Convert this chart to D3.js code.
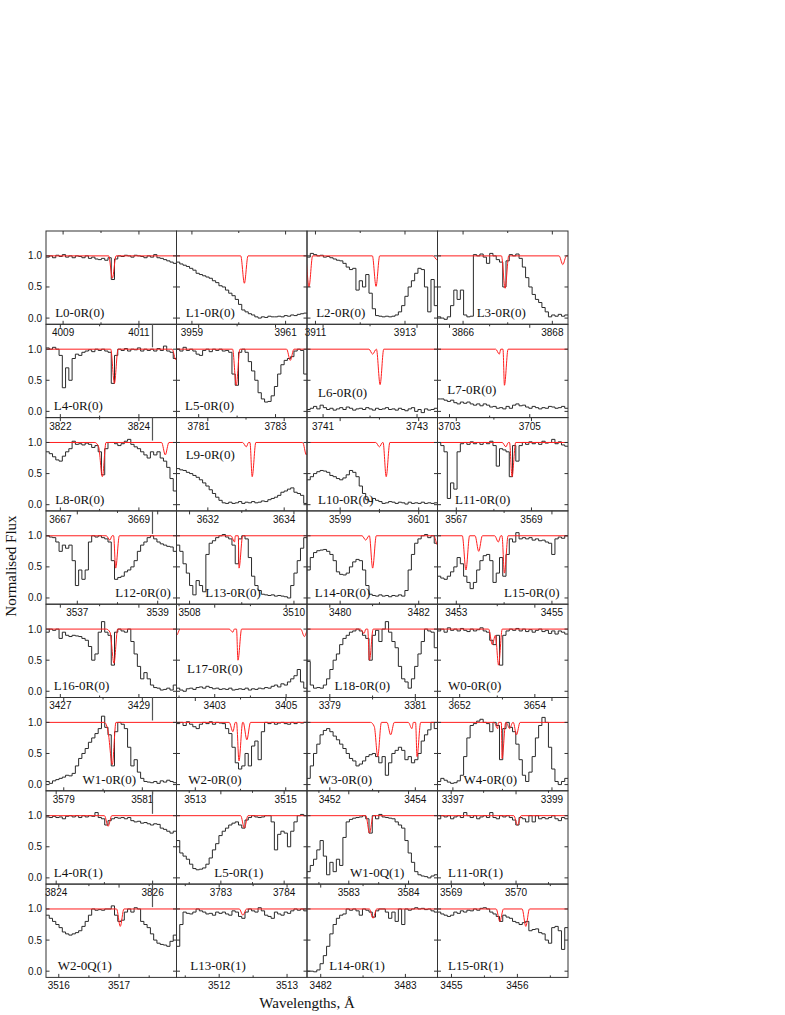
<!DOCTYPE html>
<html><head><meta charset="utf-8">
<script src="https://cdn.jsdelivr.net/npm/d3@7"></script>
<style>body{margin:0;background:#fff}</style>
</head><body>
<svg id="c" width="785" height="1015"></svg>
<script>
// ---------- DATA ----------
const panelNames = [
 "L0-0R(0)","L1-0R(0)","L2-0R(0)","L3-0R(0)",
 "L4-0R(0)","L5-0R(0)","L6-0R(0)","L7-0R(0)",
 "L8-0R(0)","L9-0R(0)","L10-0R(0)","L11-0R(0)",
 "L12-0R(0)","L13-0R(0)","L14-0R(0)","L15-0R(0)",
 "L16-0R(0)","L17-0R(0)","L18-0R(0)","W0-0R(0)",
 "W1-0R(0)","W2-0R(0)","W3-0R(0)","W4-0R(0)",
 "L4-0R(1)","L5-0R(1)","W1-0Q(1)","L11-0R(1)",
 "W2-0Q(1)","L13-0R(1)","L14-0R(1)","L15-0R(1)"];

const xDomains = [
 [4008.549,4011.991],[3958.671,3961.457],[3910.811,3913.726],[3865.427,3868.351],
 [3821.635,3824.957],[3780.423,3783.819],[3740.658,3743.436],[3702.701,3705.953],
 [3666.635,3669.957],[3631.179,3634.598],[3598.156,3601.478],[3566.5,3569.972],
 [3536.221,3539.468],[3507.75,3510.25],[3479.156,3482.478],[3452.607,3455.336],
 [3426.635,3429.957],[3401.929,3405.585],[3378.466,3381.519],[3651.41,3654.882],
 [3578.548,3581.87],[3512.584,3515.47],[3451.466,3454.519],[3396.689,3399.324],
 [3823.789,3826.495],[3782.299,3784.361],[3582.301,3584.484],[3568.789,3570.801],
 [3515.788,3517.953],[3511.371,3513.294],[3481.838,3483.379],[3454.788,3456.768]];

const xTickLabels = [
 [4009,4011],[3959,3961],[3911,3913],[3866,3868],
 [3822,3824],[3781,3783],[3741,3743],[3703,3705],
 [3667,3669],[3632,3634],[3599,3601],[3567,3569],
 [3537,3539],[3508,3510],[3480,3482],[3453,3455],
 [3427,3429],[3403,3405],[3379,3381],[3652,3654],
 [3579,3581],[3513,3515],[3452,3454],[3397,3399],
 [3824,3826],[3783,3784],[3583,3584],[3569,3570],
 [3516,3517],[3512,3513],[3482,3483],[3455,3456]];

const yTickValues = [0.0, 0.5, 1.0];

// observed normalised flux, equal wavelength bins across each panel
const fluxValues = [
 [0.98,1.0,0.97,1.01,0.99,1.02,0.98,1.0,0.97,1.0,0.99,0.97,1.0,0.96,0.98,0.95,0.94,0.96,0.93,0.97,0.62,0.95,1.0,0.99,1.01,1.0,0.98,1.01,1.0,0.99,0.97,1.0,0.98,1.02,0.97,0.96,0.94,0.92,0.9,0.88],
 [0.9,0.87,0.85,0.83,0.8,0.77,0.72,0.7,0.68,0.66,0.64,0.6,0.57,0.52,0.5,0.45,0.4,0.36,0.3,0.22,0.13,0.1,0.07,0.05,0.02,0.0,0.02,0.01,0.03,0.02,0.02,0.03,0.02,0.04,0.03,0.05,0.04,0.06,0.07,0.08],
 [0.98,1.04,1.02,1.0,1.01,0.98,0.99,0.97,0.95,0.93,0.92,0.88,0.82,0.78,0.8,0.45,0.6,0.5,0.7,0.4,0.15,0.04,0.03,0.02,0.03,0.02,0.03,0.05,0.1,0.2,0.35,0.5,0.6,0.72,0.8,0.78,0.5,0.1,0.62,0.2],
 [0.02,0.0,-0.02,0.02,0.2,0.45,0.3,0.45,0.05,0.02,0.03,1.02,1.0,1.03,0.98,0.88,1.04,1.0,0.94,0.9,0.5,0.92,1.02,1.0,1.03,0.96,0.82,0.65,0.5,0.38,0.3,0.25,0.17,0.1,0.02,0.05,0.03,0.06,0.03,0.05],
 [1.02,1.0,1.03,1.0,0.9,0.38,0.7,0.5,0.85,0.92,0.9,0.95,0.97,0.99,0.96,1.0,0.98,1.0,0.97,0.95,0.45,0.9,1.0,0.98,1.01,0.97,1.0,0.99,1.02,0.97,1.0,0.98,1.0,0.97,1.01,0.98,1.05,0.97,0.95,0.85],
 [1.0,0.97,1.03,0.98,1.0,0.97,0.92,0.9,0.98,1.0,0.96,1.0,0.98,1.0,0.97,0.98,0.95,0.6,0.42,0.95,1.0,0.95,0.8,0.65,0.5,0.3,0.2,0.15,0.16,0.25,0.4,0.6,0.75,0.82,0.85,0.88,0.97,1.0,0.98,0.6],
 [0.03,0.05,0.08,0.04,0.1,0.06,0.03,0.05,0.02,0.04,0.06,0.03,0.07,0.05,0.02,0.04,0.05,0.03,0.06,0.04,0.02,0.05,0.03,0.04,0.06,0.03,0.04,0.02,0.05,0.03,0.01,0.04,0.06,0.0,0.03,-0.02,0.04,0.02,0.03,0.05],
 [0.2,0.2,0.18,0.16,0.18,0.14,0.12,0.15,0.13,0.15,0.12,0.1,0.12,0.09,0.12,0.1,0.07,0.08,0.05,0.06,0.04,0.08,0.05,0.1,0.12,0.09,0.1,0.07,0.05,0.08,0.06,0.04,0.06,0.05,0.08,0.07,0.05,0.06,0.08,0.05],
 [0.85,0.82,0.77,0.72,0.7,0.78,0.85,0.9,1.02,0.97,0.98,0.96,0.99,0.97,0.92,0.95,0.85,0.48,0.9,1.0,1.0,0.98,0.95,0.98,1.02,1.05,0.97,0.93,0.9,0.85,0.8,0.75,0.85,0.8,0.85,0.75,0.7,0.6,0.42,0.22],
 [0.58,0.56,0.55,0.52,0.5,0.47,0.44,0.4,0.35,0.3,0.24,0.18,0.12,0.07,0.03,0.02,0.04,0.02,0.03,0.05,0.02,0.04,0.03,0.05,0.03,0.04,0.06,0.05,0.08,0.1,0.12,0.15,0.2,0.22,0.25,0.27,0.2,0.18,0.15,0.02],
 [0.4,0.45,0.5,0.53,0.55,0.54,0.52,0.47,0.45,0.42,0.4,0.43,0.48,0.55,0.52,0.45,0.3,0.18,0.08,0.05,0.1,0.07,0.05,0.02,0.03,0.05,0.04,0.02,0.04,0.03,0.01,0.04,0.02,0.03,0.02,0.04,0.02,0.03,0.02,0.03],
 [1.0,0.95,0.85,0.1,0.35,0.25,0.85,0.98,1.0,0.97,1.01,0.98,1.0,0.97,1.0,0.98,1.02,0.95,0.62,0.9,0.88,0.85,0.45,0.95,0.7,0.95,1.0,0.97,1.01,0.98,1.0,0.97,1.02,0.99,1.0,1.05,0.98,1.01,0.96,0.94],
 [1.0,0.98,0.97,0.9,0.75,0.85,0.8,0.85,0.6,0.2,0.45,0.3,0.45,0.9,1.0,0.98,1.0,0.97,0.95,0.9,0.6,0.3,0.33,0.35,0.42,0.45,0.5,0.6,0.75,0.85,0.9,0.97,1.0,0.95,0.9,0.87,0.85,0.83,0.82,0.75],
 [0.85,0.75,0.55,0.4,0.2,0.05,0.28,0.2,0.1,0.7,0.88,0.92,0.97,1.0,1.02,0.98,0.95,0.85,0.55,0.95,1.0,0.95,0.65,0.35,0.2,0.12,0.06,0.05,0.04,0.05,0.03,0.04,0.03,0.02,0.0,0.2,0.4,0.6,0.8,0.97],
 [0.45,0.65,0.73,0.76,0.77,0.78,0.75,0.7,0.6,0.42,0.38,0.37,0.4,0.5,0.58,0.62,0.6,0.45,0.2,0.06,0.04,0.03,0.05,0.03,0.04,0.02,0.04,0.03,0.05,0.03,0.12,0.45,0.7,0.88,0.95,1.0,1.02,0.97,1.0,0.88],
 [0.35,0.32,0.3,0.35,0.42,0.5,0.65,0.55,0.35,0.25,0.15,0.25,0.45,0.6,0.68,0.7,0.6,0.25,0.4,0.65,0.35,0.7,0.95,0.9,1.05,0.95,0.97,0.95,0.97,0.93,0.95,0.92,0.93,0.9,0.88,0.7,0.95,0.98,0.96,1.0],
 [0.95,1.0,0.98,1.0,0.85,0.95,0.9,0.88,0.9,0.89,0.88,0.85,0.82,0.72,0.5,0.6,0.95,1.12,0.95,0.9,0.42,0.95,1.0,0.97,0.95,1.0,0.8,0.6,0.4,0.2,0.3,0.2,0.1,0.06,0.05,0.02,0.03,0.05,0.02,0.1],
 [0.05,0.02,0.0,0.04,0.05,0.03,0.06,0.07,0.05,0.08,0.06,0.04,0.05,0.03,0.04,0.03,0.05,0.02,0.03,0.04,0.03,0.05,0.02,0.04,0.03,0.05,0.04,0.06,0.05,0.08,0.1,0.07,0.12,0.1,0.15,0.2,0.25,0.35,0.15,0.05],
 [0.48,0.1,0.05,0.06,0.05,0.1,0.2,0.35,0.5,0.6,0.75,0.85,0.9,0.95,0.97,1.0,0.97,0.9,0.85,0.5,0.9,0.98,0.8,1.0,1.12,0.95,0.8,0.7,0.4,0.2,0.15,0.05,0.2,0.4,0.6,0.8,1.0,0.97,0.95,0.7],
 [0.97,1.0,0.95,1.02,0.98,1.0,0.97,1.01,0.98,0.96,1.0,0.97,0.99,1.02,0.97,0.95,0.82,0.75,0.9,0.42,0.9,0.97,1.0,0.98,1.01,0.97,1.0,0.96,0.99,0.95,0.98,1.0,0.96,0.98,0.93,0.97,0.92,0.97,0.95,0.92],
 [0.05,0.02,0.06,0.08,0.1,0.12,0.15,0.14,0.18,0.3,0.42,0.5,0.58,0.68,0.75,0.82,0.9,1.1,0.92,0.8,0.3,0.85,1.0,0.97,0.9,0.6,0.3,0.4,0.2,0.1,0.05,0.04,0.03,0.05,0.02,0.06,0.04,0.07,0.05,0.03],
 [0.98,1.0,0.95,1.01,0.97,0.93,0.9,0.97,1.0,0.98,1.01,0.97,1.0,0.99,0.98,0.9,0.82,0.6,0.35,0.25,0.3,0.5,0.3,0.62,0.7,0.4,0.85,1.0,0.98,1.0,0.97,0.99,1.0,0.98,0.97,1.0,0.98,1.0,0.99,1.0],
 [0.1,0.3,0.5,0.65,0.8,0.87,0.9,0.85,0.78,0.72,0.65,0.58,0.5,0.42,0.38,0.3,0.33,0.38,0.45,0.48,0.5,0.45,0.35,0.45,0.15,0.35,0.5,0.55,0.6,0.55,0.4,0.45,0.35,0.4,0.5,0.7,0.8,0.88,1.0,0.9],
 [0.05,0.1,0.07,0.04,0.02,0.03,0.06,0.15,0.45,0.75,0.95,0.98,1.02,1.05,1.0,0.98,0.85,1.0,0.95,0.4,0.9,1.0,0.92,0.85,0.65,0.4,0.15,0.05,0.2,0.45,0.75,0.95,1.08,1.0,0.6,0.25,0.05,0.0,0.05,0.1],
 [0.98,0.97,0.99,0.97,0.98,0.95,0.99,1.0,0.98,1.0,0.97,1.0,0.98,1.0,0.99,1.05,0.97,0.95,0.85,0.92,0.95,0.97,0.96,0.97,0.95,0.97,0.92,0.9,0.91,0.88,0.89,0.87,0.85,0.87,0.86,0.8,0.78,0.75,0.72,0.75],
 [0.6,0.4,0.35,0.3,0.22,0.15,0.13,0.14,0.16,0.22,0.32,0.45,0.55,0.68,0.75,0.8,0.85,0.88,0.9,0.85,0.8,0.93,0.97,1.0,0.98,0.97,0.98,1.0,1.0,0.9,0.45,0.7,0.75,0.72,0.5,0.75,0.9,1.0,1.02,1.0],
 [0.1,0.2,0.3,0.45,0.6,0.35,0.05,0.25,0.1,0.3,0.2,0.65,0.9,0.94,0.96,0.97,0.98,1.0,0.95,0.72,1.0,0.95,1.02,0.98,0.97,0.96,0.95,0.9,0.85,0.8,0.6,0.4,0.25,0.1,0.05,0.03,0.02,0.0,0.03,0.05],
 [0.95,1.0,0.98,1.0,0.95,0.98,1.0,0.97,1.05,1.0,0.97,1.0,0.95,0.98,1.0,0.97,1.05,0.97,0.95,1.0,0.98,1.0,0.97,0.93,0.85,0.97,0.95,0.9,1.0,0.9,1.0,0.95,0.97,0.95,0.97,1.0,0.95,0.92,0.97,0.95],
 [0.9,0.85,0.8,0.75,0.7,0.63,0.6,0.58,0.6,0.62,0.65,0.72,0.8,0.9,1.0,0.98,0.99,0.98,1.0,1.0,1.05,0.9,0.8,0.82,0.95,1.0,0.95,1.02,1.0,0.8,0.75,0.7,0.6,0.5,0.45,0.43,0.42,0.4,0.48,0.58],
 [0.4,0.75,0.95,0.93,0.92,0.95,1.0,0.97,0.95,0.92,0.93,0.9,0.95,0.93,0.95,0.92,0.9,0.97,0.95,0.88,0.85,0.95,1.0,0.97,0.95,1.02,0.97,0.9,0.88,0.85,0.95,0.92,0.9,0.95,0.93,0.97,1.0,0.98,1.0,0.97],
 [0.0,0.0,-0.01,0.02,0.12,0.25,0.4,0.6,0.75,0.85,0.9,0.92,1.0,0.98,1.0,0.97,0.9,1.0,0.98,0.95,0.87,0.97,1.0,1.0,0.95,0.85,0.95,0.8,1.0,0.75,1.0,0.98,1.0,1.02,1.0,1.01,0.99,1.0,0.97,0.95],
 [0.95,0.92,0.9,0.88,0.9,0.95,0.93,0.97,0.95,0.98,0.97,1.0,0.98,1.01,1.02,1.0,0.95,0.92,0.88,0.8,0.9,0.87,0.85,0.8,0.78,0.75,0.78,0.8,0.65,0.67,0.68,0.62,0.6,0.5,0.45,0.7,0.72,0.65,0.35,0.7]];

// model profile vertices: [wavelength, flux] at line minima (and local maxima between blends)
const modelVertices = [
 [[4010.30,0.64]],
 [[3960.12,0.56]],
 [[3910.855,0.5],[3912.353,0.51],[3913.711,0.94]],
 [[3866.942,0.48],[3868.234,0.86]],
 [[3823.376,0.45],[3824.94,0.83]],
 [[3781.978,0.42],[3783.384,0.82]],
 [[3742.055,0.92],[3742.214,0.43]],
 [[3704.242,0.92],[3704.369,0.42]],
 [[3667.974,0.93],[3668.07,0.45],[3669.671,0.8]],
 [[3633.008,0.93],[3633.162,0.45],[3634.581,0.8]],
 [[3600.0,0.93],[3600.172,0.45]],
 [[3568.319,0.93],[3568.483,0.45]],
 [[3537.812,0.93],[3537.955,0.48]],
 [[3508.863,0.9],[3508.948,0.48]],
 [[3480.651,0.93],[3480.827,0.48],[3482.478,0.85]],
 [[3453.202,0.45],[3453.469,0.75],[3453.879,0.9],[3454.007,0.4]],
 [[3428.263,0.95],[3428.366,0.45]],
 [[3401.929,0.9],[3403.508,0.95],[3403.651,0.5],[3405.512,0.88]],
 [[3379.8,0.93],[3379.928,0.5]],
 [[3652.868,0.75],[3652.95,0.9],[3653.035,0.42]],
 [[3580.129,0.85],[3580.236,0.32]],
 [[3513.831,0.85],[3513.966,0.38],[3514.14,0.72]],
 [[3453.041,0.93],[3453.121,0.45],[3453.423,0.8],[3453.921,0.9],[3454.04,0.45]],
 [[3397.904,0.9],[3397.993,0.42],[3398.146,0.9],[3398.283,0.8]],
 [[3825.077,0.83]],
 [[3783.371,0.8]],
 [[3583.347,0.72]],
 [[3570.022,0.85]],
 [[3517.02,0.72]],
 [[3512.35,0.9]],
 [[3482.618,0.85]],
 [[3455.734,0.8],[3456.128,0.72]]];

// ---------- LAYOUT ----------
// panel label placement: [fraction of panel width, flux level of baseline]
const labelPlace = [
 [0.07,0.0],[0.07,0.0],[0.07,0.0],[0.30,0.0],
 [0.06,0.0],[0.065,0.0],[0.085,0.22],[0.075,0.27],
 [0.07,0.0],[0.07,0.72],[0.085,0.0],[0.135,0.0],
 [0.53,0.0],[0.22,0.0],[0.06,0.0],[0.51,0.0],
 [0.06,0.0],[0.08,0.27],[0.21,0.0],[0.08,0.0],
 [0.28,0.0],[0.09,0.0],[0.09,0.0],[0.2,0.0],
 [0.06,0.0],[0.29,0.0],[0.33,0.0],[0.08,0.0],
 [0.09,0.0],[0.105,0.0],[0.17,0.0],[0.08,0.0]];

const svg = d3.select('#c');
const L = 46, R = 568, T = 231, B = 977.4;
const nCols = 4, nRows = 8;
const pw = (R - L) / nCols, ph = (B - T) / nRows;
const y = d3.scaleLinear().domain([-0.1, 1.4]).range([ph, 0]);
const sans = "'Liberation Sans', Arial, sans-serif";
const serif = "'Liberation Serif', 'Times New Roman', serif";
const defs = svg.append('defs');
defs.append('clipPath').attr('id','pclip').append('rect')
  .attr('x',0).attr('y',0).attr('width',pw).attr('height',ph);

panelNames.forEach((name, k) => {
  const r = Math.floor(k / nCols), c = k % nCols;
  const x0 = L + c * pw, y0 = T + r * ph;
  const g = svg.append('g').attr('transform', `translate(${x0},${y0})`);
  const [lo, hi] = xDomains[k];
  const x = d3.scaleLinear().domain([lo, hi]).range([0, pw]);
  const plot = g.append('g').attr('clip-path', 'url(#pclip)');

  // observed spectrum (histogram style)
  const vals = fluxValues[k];
  const bw = (hi - lo) / vals.length;
  const pts = vals.map((v, i) => [lo + i * bw, v]);
  pts.push([hi, vals[vals.length - 1]]);
  plot.append('path').datum(pts)
    .attr('d', d3.line().x(d => x(d[0])).y(d => y(d[1])).curve(d3.curveStepAfter))
    .attr('fill', 'none').attr('stroke', '#2a2a2a').attr('stroke-width', 1);

  // model profile
  const hw = 0.028 * (hi - lo);
  const verts = modelVertices[k].slice().sort((a, b) => a[0] - b[0]);
  const mp = [[lo - 1, 1], [hi + 1, 1]];
  verts.forEach((v, i) => {
    mp.push(v);
    const prev = verts[i - 1], next = verts[i + 1];
    if (!prev || v[0] - prev[0] > hw * 1.2) mp.push([v[0] - hw, 1]);
    if (!next || next[0] - v[0] > hw * 1.2) mp.push([v[0] + hw, 1]);
  });
  mp.sort((a, b) => a[0] - b[0]);
  plot.append('path').datum(mp)
    .attr('d', d3.line().x(d => x(d[0])).y(d => y(d[1])).curve(d3.curveMonotoneX))
    .attr('fill', 'none').attr('stroke', '#ff1e1e').attr('stroke-width', 1);

  // frame
  g.append('rect').attr('x', 0).attr('y', 0).attr('width', pw).attr('height', ph)
    .attr('fill', 'none').attr('stroke', '#333').attr('stroke-width', 1);

  // x ticks (inward, bottom and top)
  const majors = xTickLabels[k];
  const step = (majors[1] - majors[0]) / 2;
  const minors = [];
  for (let t = majors[0] - 4 * step; t <= hi + 1e-9; t += step) {
    if (t >= lo && !majors.some(m => Math.abs(m - t) < 1e-6)) minors.push(t);
  }
  const tg = g.append('g').attr('stroke', '#333').attr('stroke-width', 1);
  majors.forEach(t => {
    tg.append('line').attr('x1', x(t)).attr('x2', x(t)).attr('y1', ph).attr('y2', ph - 3.5);
    tg.append('line').attr('x1', x(t)).attr('x2', x(t)).attr('y1', 0).attr('y2', 3.5);
  });
  minors.forEach(t => {
    tg.append('line').attr('x1', x(t)).attr('x2', x(t)).attr('y1', ph).attr('y2', ph - 2);
    tg.append('line').attr('x1', x(t)).attr('x2', x(t)).attr('y1', 0).attr('y2', 2);
  });
  // y ticks (inward, left and right)
  yTickValues.forEach(v => {
    tg.append('line').attr('x1', 0).attr('x2', 3.5).attr('y1', y(v)).attr('y2', y(v));
    tg.append('line').attr('x1', pw).attr('x2', pw - 3.5).attr('y1', y(v)).attr('y2', y(v));
  });

  // x tick labels below the panel
  majors.forEach(t => {
    g.append('text').attr('x', x(t)).attr('y', ph + 12)
      .attr('text-anchor', 'middle').attr('font-family', sans).attr('font-size', 10)
      .attr('fill', '#111').text(t);
  });

  // y tick labels on first column
  if (c === 0) {
    yTickValues.forEach(v => {
      g.append('text').attr('x', -4).attr('y', y(v)).attr('dy', '0.35em')
        .attr('text-anchor', 'end').attr('font-family', sans).attr('font-size', 10)
        .attr('fill', '#111').text(d3.format('.1f')(v));
    });
  }

  // panel label
  const [fx, fy] = labelPlace[k];
  g.append('text').attr('x', fx * pw).attr('y', y(fy) - 1)
    .attr('font-family', serif).attr('font-size', 13).attr('fill', '#111').text(name);
});

// small vertical marks at the top of some first-column panels
[1, 2, 3, 5, 6, 7].forEach(r => {
  svg.append('line').attr('x1', L + 0.816 * pw).attr('x2', L + 0.816 * pw)
    .attr('y1', T + r * ph).attr('y2', T + r * ph + 23)
    .attr('stroke', '#555').attr('stroke-width', 1.2);
});

// axis titles
svg.append('text').attr('x', (L + R) / 2).attr('y', 1008)
  .attr('text-anchor', 'middle').attr('font-family', serif).attr('font-size', 15)
  .attr('fill', '#111').text('Wavelengths, Å');
svg.append('text').attr('transform', 'translate(16,566) rotate(-90)')
  .attr('text-anchor', 'middle').attr('font-family', serif).attr('font-size', 15)
  .attr('fill', '#111').text('Normalised Flux');
</script>
</body></html>
